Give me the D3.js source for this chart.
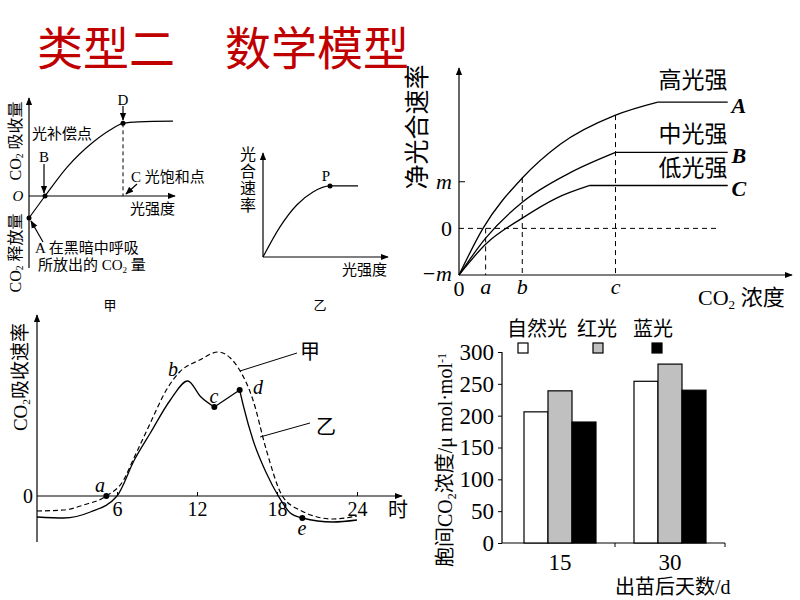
<!DOCTYPE html>
<html>
<head>
<meta charset="utf-8">
<script src="https://cdn.jsdelivr.net/npm/d3@7"></script>
<style>
  body { margin: 0; background: #fff; }
  svg text { font-family: "Liberation Serif", "Noto Sans CJK SC", serif; fill: #000; }
</style>
</head>
<body>
<svg id="chart" width="800" height="600"></svg>
<script>
// ---- data ----
var titleParts = ["类型二", "数学模型"];

// 甲: light response (light intensity vs CO2 uptake)
var jiaX = [0, 1.1, 2.6, 4.4, 5.55, 6.44, 7.5, 9.86];
var jiaY = [-1, 0, 1.3, 2.45, 3.0, 3.3, 3.37, 3.4];

// 乙: photosynthesis rate vs light intensity
var yiX = [0, 1.36, 2.7, 4.0, 5.36, 7.6];
var yiY = [0, 2.9, 5.0, 6.25, 6.83, 6.83];

// net photosynthesis vs CO2 concentration (in units of m)
var co2Ticks = {a: 0.8, b: 1.9, c: 4.7};
var curveAx = [0, 0.72, 1.9, 3.03, 4.7, 5.97, 8.07];
var curveAy = [-1, 0, 1.08, 1.8, 2.43, 2.71, 2.71];
var curveBx = [0, 0.8, 1.9, 3.3, 4.7, 8.07];
var curveBy = [-1, -0.21, 0.56, 1.18, 1.63, 1.63];
var curveCx = [0, 0.8, 1.9, 2.9, 3.93, 8.07];
var curveCy = [-1, -0.34, 0.22, 0.64, 0.92, 0.92];
var lightNames = ["高光强", "中光强", "低光强"];
var curveNames = ["A", "B", "C"];

// daily CO2 uptake (hour, rate)
var hourTicks = [6, 12, 18, 24];
var jiaDayT = [0, 2, 3.5, 5.2, 6.5, 7.2, 8.5, 9.7, 10.7, 12.2, 13.6, 14.5, 15.1, 16.2, 17.2, 18.4, 19.7, 22.2, 24];
var jiaDayV = [-1.5, -1.4, -0.9, 0, 1.6, 3.6, 7.3, 10.6, 12.4, 13.6, 14.4, 13.8, 12.8, 9.6, 4.6, 0, -1.4, -2.3, -2.0];
var yiDayT = [0, 2, 4, 6, 7.3, 8.5, 10, 11.3, 12.3, 13.3];
var yiDayV = [-2.1, -2.2, -1.6, 0, 3.6, 6.3, 9.6, 11.5, 9.9, 8.9];
var yiDayT2 = [15.2, 15.5, 16.2, 17.2, 18.1, 19, 19.9, 22.2, 24];
var yiDayV2 = [10.6, 8.9, 5.6, 2.3, 0, -1.7, -2.2, -2.6, -2.4];
var dayPoints = [
  {name: "a", t: 5.2, v: 0},
  {name: "c", t: 13.3, v: 8.9},
  {name: "d", t: 15.2, v: 10.6},
  {name: "e", t: 19.9, v: -2.2}
];

// bar chart: intercellular CO2
var days = ["15", "30"];
var lights = ["自然光", "红光", "蓝光"];
var naturalLight = [206, 254];
var redLight = [239, 281];
var blueLight = [190, 240];
var barTicks = [0, 50, 100, 150, 200, 250, 300];

var svg = d3.select("#chart");

var defs = svg.append("defs");
defs.append("marker")
    .attr("id", "arr")
    .attr("viewBox", "0 0 10 10")
    .attr("refX", 9).attr("refY", 5)
    .attr("markerUnits", "userSpaceOnUse")
    .attr("markerWidth", 8).attr("markerHeight", 8)
    .attr("orient", "auto")
  .append("path")
    .attr("d", "M0,1 L10,5 L0,9 Z")
    .attr("fill", "#000");

function arrow(g, x1, y1, x2, y2) {
  g.append("line")
    .attr("x1", x1).attr("y1", y1).attr("x2", x2).attr("y2", y2)
    .attr("stroke", "#000").attr("stroke-width", 1.2)
    .attr("marker-end", "url(#arr)");
}
function seg(g, x1, y1, x2, y2, dash) {
  g.append("line")
    .attr("x1", x1).attr("y1", y1).attr("x2", x2).attr("y2", y2)
    .attr("stroke", "#000").attr("stroke-width", 1)
    .attr("stroke-dasharray", dash || null);
}
function label(g, x, y, txt, size, anchor, italic) {
  return g.append("text")
    .attr("x", x).attr("y", y)
    .attr("dy", "0.35em")
    .attr("text-anchor", anchor || "middle")
    .style("font-size", size + "px")
    .style("font-style", italic ? "italic" : null)
    .text(txt);
}
// text containing CO2 with subscript
function co2Text(t, before, after) {
  if (before) t.append("tspan").text(before);
  t.append("tspan").text("CO");
  t.append("tspan").text("2").style("font-size", "0.6em").attr("dy", "0.3em");
  t.append("tspan").text(after).attr("dy", "-0.18em");
}
function pairs(xs, ys) { return xs.map(function (d, i) { return [d, ys[i]]; }); }

// ---- title ----
var tg = svg.append("g");
[37, 225].forEach(function (x, i) {
  tg.append("text")
    .attr("x", x).attr("y", 48).attr("dy", "0.36em")
    .style("font-family", "'Noto Sans CJK SC'")
    .style("font-size", "46px")
    .style("fill", "#c00000")
    .text(titleParts[i]);
});

// ---- 甲 (top-left) ----
var g1 = svg.append("g");
var x1 = d3.scaleLinear().domain([0, 10]).range([29, 175]);
var y1 = d3.scaleLinear().domain([-3.27, 4.45]).range([268, 98]);
arrow(g1, x1(0), y1(-3.27), x1(0), y1(4.45));
arrow(g1, x1(0), y1(0), x1(10), y1(0));
var line1 = d3.line().x(function (d) { return x1(d[0]); }).y(function (d) { return y1(d[1]); }).curve(d3.curveMonotoneX);
g1.append("path").datum(pairs(jiaX, jiaY)).attr("d", line1)
  .attr("fill", "none").attr("stroke", "#000").attr("stroke-width", 1.2);
seg(g1, x1(6.44), y1(3.3), x1(6.44), y1(0), "4,3");
[[0, -1], [1.1, 0], [6.44, 3.3]].forEach(function (p) {
  g1.append("circle").attr("cx", x1(p[0])).attr("cy", y1(p[1])).attr("r", 2.5);
});
label(g1, 18, 196, "O", 15, "middle", true);
label(g1, 32, 134, "光补偿点", 15, "start");
label(g1, 44, 157, "B", 15);
arrow(g1, 44, 164, 44, 193);
label(g1, 123, 100, "D", 15);
arrow(g1, 123, 106, 123, 120);
label(g1, 131, 177, "C 光饱和点", 15, "start");
arrow(g1, 137, 184, 126, 194);
label(g1, 130, 209, "光强度", 15, "start");
arrow(g1, 43, 242, 31, 221);
label(g1, 35, 248, "A 在黑暗中呼吸", 15, "start");
co2Text(label(g1, 38, 265, "", 15, "start"), "所放出的 ", " 量");
co2Text(g1.append("text").attr("transform", "translate(15,141) rotate(-90)")
  .attr("dy", "0.35em").attr("text-anchor", "middle").style("font-size", "16px"), "", " 吸收量");
co2Text(g1.append("text").attr("transform", "translate(15,253) rotate(-90)")
  .attr("dy", "0.35em").attr("text-anchor", "middle").style("font-size", "16px"), "", " 释放量");
label(g1, 110, 305, "甲", 13);

// ---- 乙 (top-middle) ----
var g2 = svg.append("g");
var x2 = d3.scaleLinear().domain([0, 10]).range([263, 388]);
var y2 = d3.scaleLinear().domain([0, 10]).range([257, 153]);
arrow(g2, x2(0), y2(0), x2(0), y2(10));
arrow(g2, x2(0), y2(0), x2(10), y2(0));
var line2 = d3.line().x(function (d) { return x2(d[0]); }).y(function (d) { return y2(d[1]); }).curve(d3.curveMonotoneX);
g2.append("path").datum(pairs(yiX, yiY)).attr("d", line2)
  .attr("fill", "none").attr("stroke", "#000").attr("stroke-width", 1.2);
g2.append("circle").attr("cx", x2(5.36)).attr("cy", y2(6.83)).attr("r", 2.5);
label(g2, x2(5.36) - 4, y2(6.83) - 10, "P", 15);
"光合速率".split("").forEach(function (ch, i) {
  label(g2, 248, 154 + i * 17, ch, 16);
});
label(g2, 342, 270, "光强度", 15, "start");
label(g2, 320, 305, "乙", 13);

// ---- CO2 concentration (top-right) ----
var g3 = svg.append("g");
var x3 = d3.scaleLinear().domain([0, 10]).range([459, 792]);
var y3 = d3.scaleLinear().domain([-1, 3.44]).range([275, 68]);
arrow(g3, x3(0), y3(-1), x3(0), y3(3.44));
arrow(g3, x3(0), y3(-1), x3(10), y3(-1));
seg(g3, x3(0), y3(1), x3(0) + 6, y3(1));
seg(g3, x3(0), y3(0), x3(7.78), y3(0), "5,4");
seg(g3, x3(co2Ticks.a), y3(0), x3(co2Ticks.a), y3(-1), "5,4");
seg(g3, x3(co2Ticks.b), y3(1.08), x3(co2Ticks.b), y3(-1), "5,4");
seg(g3, x3(co2Ticks.c), y3(2.43), x3(co2Ticks.c), y3(-1), "5,4");
var line3 = d3.line().x(function (d) { return x3(d[0]); }).y(function (d) { return y3(d[1]); }).curve(d3.curveMonotoneX);
var flat3 = d3.line().x(function (d) { return x3(d[0]); }).y(function (d) { return y3(d[1]); });
var nameDy = [-22, -18, -18];
[pairs(curveAx, curveAy), pairs(curveBx, curveBy), pairs(curveCx, curveCy)].forEach(function (pts, i) {
  // rising part is smooth, the plateau is a straight line
  g3.append("path").datum(pts.slice(0, pts.length - 1)).attr("d", line3)
    .attr("fill", "none").attr("stroke", "#000").attr("stroke-width", 1.3);
  g3.append("path").datum(pts.slice(pts.length - 2)).attr("d", flat3)
    .attr("fill", "none").attr("stroke", "#000").attr("stroke-width", 1.3);
  var last = pts[pts.length - 1];
  label(g3, x3(last[0]) + 11, y3(last[1]) + 3, curveNames[i], 22, "middle", true).style("font-weight", "bold");
  label(g3, 693, y3(last[1]) + nameDy[i], lightNames[i], 23);
});
label(g3, 452, y3(1), "m", 22, "end", true);
label(g3, 452, y3(0), "0", 22, "end");
label(g3, 452, y3(-1) - 2, "−m", 22, "end", true);
label(g3, x3(0), 288, "0", 22);
label(g3, x3(co2Ticks.a), 286, "a", 22, "middle", true);
label(g3, x3(co2Ticks.b), 286, "b", 22, "middle", true);
label(g3, x3(co2Ticks.c), 286, "c", 22, "middle", true);
co2Text(label(g3, 698, 297, "", 22, "start"), "", " 浓度");
g3.append("text").attr("transform", "translate(417,127) rotate(-90)")
  .attr("dy", "0.35em").attr("text-anchor", "middle").style("font-size", "25px")
  .text("净光合速率");

// ---- daily CO2 uptake (bottom-left) ----
var g4 = svg.append("g");
var x4 = d3.scaleLinear().domain([0, 24]).range([37, 357]);
var y4 = d3.scaleLinear().domain([-4.6, 18.1]).range([542, 315]);
arrow(g4, x4(0), y4(-4.6), x4(0), y4(18.1));
arrow(g4, x4(0), y4(0), 402, y4(0));
g4.append("g")
  .attr("transform", "translate(0," + y4(0) + ")")
  .call(d3.axisBottom(x4).tickValues(hourTicks).tickSize(-4).tickPadding(6).tickFormat(d3.format("d")))
  .call(function (a) {
    a.select(".domain").remove();
    a.selectAll("text").style("font-size", "20px")
      .style("font-family", "'Liberation Serif', serif");
  });
label(g4, 28, y4(0), "0", 20);
label(g4, 398, 510, "时", 20);
var line4 = d3.line().x(function (d) { return x4(d[0]); }).y(function (d) { return y4(d[1]); }).curve(d3.curveMonotoneX);
g4.append("path").datum(pairs(jiaDayT, jiaDayV)).attr("d", line4)
  .attr("fill", "none").attr("stroke", "#000").attr("stroke-width", 1.2).attr("stroke-dasharray", "5,3");
g4.append("path").datum(pairs(yiDayT, yiDayV)).attr("d", line4)
  .attr("fill", "none").attr("stroke", "#000").attr("stroke-width", 1.3);
g4.append("path").datum([[13.3, 8.9], [15.2, 10.6]]).attr("d", d3.line().x(function (d) { return x4(d[0]); }).y(function (d) { return y4(d[1]); }))
  .attr("fill", "none").attr("stroke", "#000").attr("stroke-width", 1.3);
g4.append("path").datum(pairs(yiDayT2, yiDayV2)).attr("d", line4)
  .attr("fill", "none").attr("stroke", "#000").attr("stroke-width", 1.3);
dayPoints.forEach(function (p) {
  g4.append("circle").attr("cx", x4(p.t)).attr("cy", y4(p.v)).attr("r", 3);
});
label(g4, 100, 485, "a", 20, "middle", true);
label(g4, 173, 369, "b", 20, "middle", true);
label(g4, 214, 396, "c", 20, "middle", true);
label(g4, 258, 387, "d", 20, "middle", true);
label(g4, 302, 528, "e", 20, "middle", true);
seg(g4, 240, 371, 297, 353);
label(g4, 310, 352, "甲", 20);
seg(g4, 260, 437, 310, 423);
label(g4, 326, 427, "乙", 20);
co2Text(g4.append("text").attr("transform", "translate(20,377) rotate(-90)")
  .attr("dy", "0.35em").attr("text-anchor", "middle").style("font-size", "19px"), "", "吸收速率");

// ---- bar chart (bottom-right) ----
var g5 = svg.append("g");
var series = [naturalLight, redLight, blueLight];
var colors = ["#fff", "#c0c0c0", "#000"];
var xb = d3.scaleBand().domain(days).range([505, 725]);
var xi = d3.scaleBand().domain(d3.range(3)).range([19, xb.bandwidth() - 19]);
var yb = d3.scaleLinear().domain([0, 300]).range([543, 352]);
g5.append("g")
  .attr("transform", "translate(502,0)")
  .call(d3.axisLeft(yb).tickValues(barTicks).tickSize(4).tickPadding(4))
  .call(function (a) {
    a.select(".domain").attr("stroke-width", 1.2).attr("d", "M0," + yb(300) + "V" + yb(0));
    a.selectAll("text").style("font-size", "23px")
      .style("font-family", "'Liberation Serif', serif");
  });
seg(g5, 502, yb(0), 725, yb(0));
[xb("30"), 725].forEach(function (x) { seg(g5, x, yb(0), x, yb(0) + 4); });
days.forEach(function (d, di) {
  series.forEach(function (s, si) {
    g5.append("rect")
      .attr("x", xb(d) + xi(si)).attr("y", yb(s[di]))
      .attr("width", xi.bandwidth()).attr("height", yb(0) - yb(s[di]))
      .attr("fill", colors[si]).attr("stroke", "#000").attr("stroke-width", 1.2);
  });
  label(g5, xb(d) + xb.bandwidth() / 2, 562, d, 23);
});
label(g5, 615, 587, "出苗后天数/d", 20, "start");
var legX = [507, 577, 633];
var boxX = [518, 593, 652];
lights.forEach(function (l, i) {
  label(g5, legX[i], 329, l, 20, "start");
  g5.append("rect").attr("x", boxX[i]).attr("y", 343).attr("width", 10).attr("height", 10)
    .attr("fill", colors[i]).attr("stroke", "#000").attr("stroke-width", 1.2);
});
var yl = g5.append("text").attr("transform", "translate(445,460) rotate(-90)")
  .attr("dy", "0.35em").attr("text-anchor", "middle").style("font-size", "20px");
co2Text(yl, "胞间", "浓度/μ mol·mol");
yl.append("tspan").text("-1").style("font-size", "0.6em").attr("dy", "-0.5em");
</script>
</body>
</html>
